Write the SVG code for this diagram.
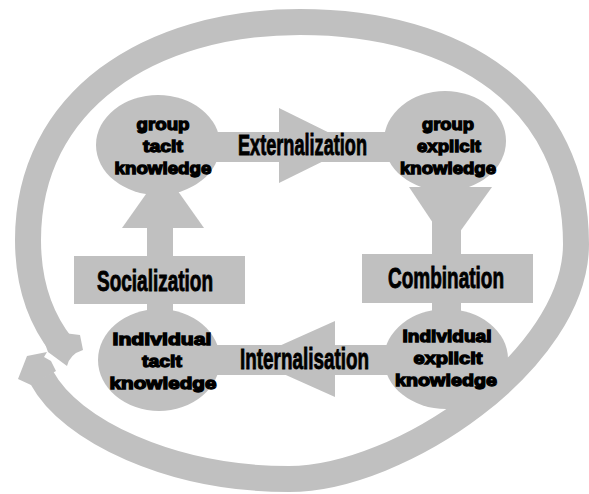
<svg xmlns="http://www.w3.org/2000/svg" width="589" height="494" viewBox="0 0 589 494">
<defs>
<style>
.g{fill:#c0c0c0;stroke:none}
.ring{fill:none;stroke:#c0c0c0;stroke-width:26}
.nt{font-family:"Liberation Sans",Arial,sans-serif;font-weight:bold;font-size:17px;fill:#000;stroke:#000;stroke-width:1.3;text-anchor:middle}
.lt{font-family:"Liberation Sans",Arial,sans-serif;font-weight:bold;font-size:30px;fill:#000;stroke:#000;stroke-width:0.9;text-anchor:middle}
</style>
</defs>
<rect width="589" height="494" fill="#fff"/>
<g id="connectors">
  <g id="cycle">
    <path class="ring" d="M 42 378 C 70 430 170 479 289 479 C 400 479 576 360 576 244 C 576 100 460 22 300 22 C 150 22 28 100 28 240 C 28 290 43 322 62 346"/>
    <path class="g" d="M 40 330 L 48 352 L 67 366 Q 70 354 83 350 L 80 335 Z"/>
    <path class="g" d="M 18 379 L 27 356 L 47 352 L 44 357 L 51 361 L 56 371 L 31 385 Z"/>
  </g>
  <g id="externalization">
    <rect class="g" x="215" y="132" width="175" height="30"/>
    <polygon class="g" points="279,108 279,183 355,145.5"/>
  </g>
  <g id="internalisation">
    <rect class="g" x="215" y="345" width="175" height="30"/>
    <polygon class="g" points="335,321 335,397 250,359"/>
  </g>
  <g id="socialization-arrow">
    <rect class="g" x="147" y="190" width="26" height="125"/>
    <polygon class="g" points="122,228 204,228 163,170"/>
  </g>
  <g id="combination-arrow">
    <rect class="g" x="432" y="180" width="29" height="135"/>
    <polygon class="g" points="409,187 492,187 449,247"/>
  </g>
</g>
<g id="socialization">
  <rect class="g" x="74" y="256" width="171" height="48"/>
  <text class="lt" x="155" y="291" textLength="116" lengthAdjust="spacingAndGlyphs">Socialization</text>
</g>
<g id="combination">
  <rect class="g" x="362" y="254" width="171" height="49"/>
  <text class="lt" x="446" y="288" textLength="116" lengthAdjust="spacingAndGlyphs">Combination</text>
</g>
<g id="externalization-label">
  <text class="lt" x="302.5" y="155" textLength="129" lengthAdjust="spacingAndGlyphs">Externalization</text>
</g>
<g id="internalisation-label">
  <text class="lt" x="304.5" y="369" textLength="129" lengthAdjust="spacingAndGlyphs">Internalisation</text>
</g>
<g id="group-tacit">
  <ellipse class="g" cx="158" cy="145" rx="62" ry="50"/>
  <text class="nt" x="163" y="130" textLength="53" lengthAdjust="spacingAndGlyphs">group</text>
  <text class="nt" x="163" y="152" textLength="40" lengthAdjust="spacingAndGlyphs">tacit</text>
  <text class="nt" x="163" y="174" textLength="97" lengthAdjust="spacingAndGlyphs">knowledge</text>
</g>
<g id="group-explicit">
  <ellipse class="g" cx="445" cy="141" rx="61" ry="50"/>
  <text class="nt" x="448" y="130" textLength="52" lengthAdjust="spacingAndGlyphs">group</text>
  <text class="nt" x="449" y="152" textLength="64" lengthAdjust="spacingAndGlyphs">explicit</text>
  <text class="nt" x="448" y="174" textLength="96" lengthAdjust="spacingAndGlyphs">knowledge</text>
</g>
<g id="individual-tacit">
  <ellipse class="g" cx="159" cy="360" rx="61" ry="51"/>
  <text class="nt" x="162" y="345" textLength="99" lengthAdjust="spacingAndGlyphs">Individual</text>
  <text class="nt" x="162" y="367" textLength="40" lengthAdjust="spacingAndGlyphs">tacit</text>
  <text class="nt" x="163" y="389" textLength="107" lengthAdjust="spacingAndGlyphs">knowledge</text>
</g>
<g id="individual-explicit">
  <ellipse class="g" cx="446" cy="359" rx="62" ry="50"/>
  <text class="nt" x="447" y="342" textLength="89" lengthAdjust="spacingAndGlyphs">Individual</text>
  <text class="nt" x="448" y="364" textLength="69" lengthAdjust="spacingAndGlyphs">explicit</text>
  <text class="nt" x="446" y="386" textLength="102" lengthAdjust="spacingAndGlyphs">knowledge</text>
</g>
</svg>
